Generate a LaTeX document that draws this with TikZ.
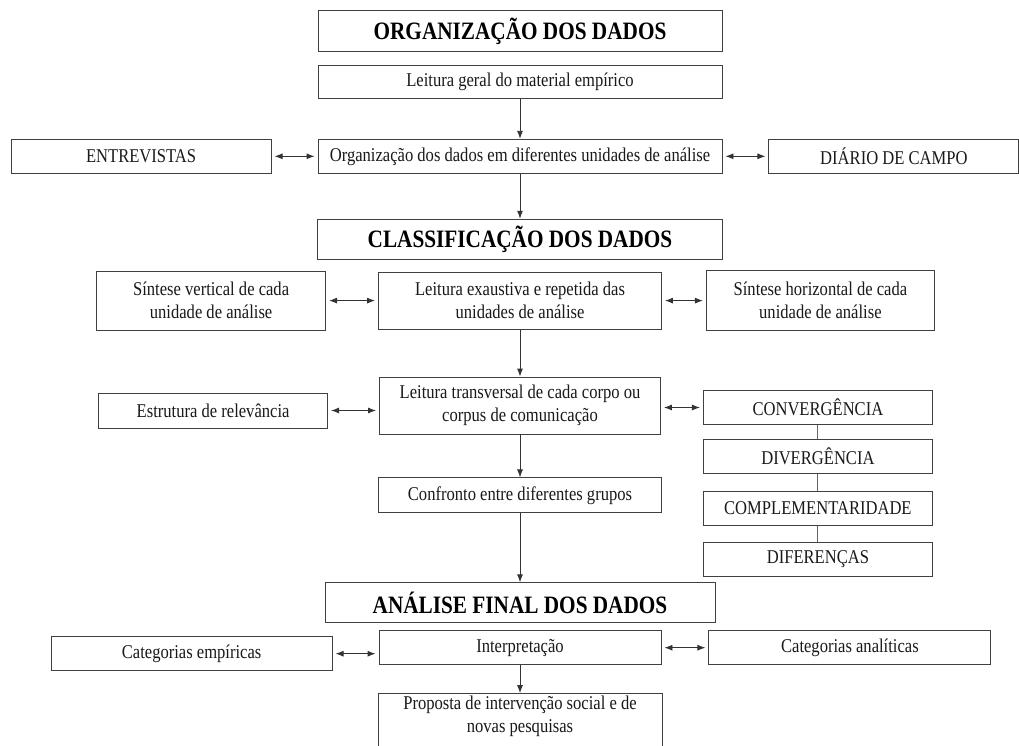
\documentclass[tikz,border=0pt]{standalone}
\usepackage{fontspec}
\setmainfont[FakeStretch=0.85]{Liberation Serif}
\usetikzlibrary{arrows.meta,positioning}

\begin{document}
\begin{tikzpicture}[
  x=1pt, y=-1pt,
  node distance=41pt,
  box/.style={rectangle, draw=black!75, line width=0.9pt, inner sep=2pt, align=center, text=black!90, minimum height=34pt, font=\fontsize{19.5}{23.4}\selectfont},
  head/.style={box, minimum width=404pt, minimum height=41pt, text=black, font=\fontsize{25}{30}\selectfont\bfseries},
  link/.style={-{Latex[length=8pt,width=6pt]}, line width=0.9pt, draw=black!80},
  both/.style={{Latex[length=8pt,width=6pt]}-{Latex[length=8pt,width=6pt]}, line width=0.9pt, draw=black!80, shorten <=3pt, shorten >=3pt},
  joint/.style={line width=0.9pt, draw=black!60}
]
\useasboundingbox (0,0) rectangle (1019,746);

% organizacao
\node[head] (org) at (520,31) {ORGANIZAÇÃO DOS DADOS};
\node[box, minimum width=404pt, minimum height=33pt, below=13pt of org] (leitura) {Leitura geral do material empírico};
\node[box, minimum width=404pt, below=40pt of leitura] (unidades) {Organização dos dados em diferentes unidades de análise};
\node[box, minimum width=260pt, left=46pt of unidades] (entrev) {ENTREVISTAS};
\node[box, minimum width=250pt, right=46pt of unidades] (diario) {DIÁRIO DE CAMPO};
\draw[link] (leitura) -- (unidades);
\draw[both] (entrev) -- (unidades);
\draw[both] (unidades) -- (diario);

% classificacao
\node[head, minimum width=405pt, minimum height=40pt, below=45pt of unidades] (classif) {CLASSIFICAÇÃO DOS DADOS};
\draw[link] (unidades) -- (classif);
\node[box, minimum width=283pt, minimum height=57pt, below=12pt of classif] (exaust) {Leitura exaustiva e repetida das\\unidades de análise};
\node[box, minimum width=229pt, minimum height=59pt, left=52pt of exaust] (vertical) {Síntese vertical de cada\\unidade de análise};
\node[box, minimum width=228pt, minimum height=60pt, right=44pt of exaust] (horizontal) {Síntese horizontal de cada\\unidade de análise};
\draw[both] (vertical) -- (exaust);
\draw[both] (exaust) -- (horizontal);

\node[box, minimum width=281pt, minimum height=57pt, below=47pt of exaust] (transv) {Leitura transversal de cada corpo ou\\corpus de comunicação};
\draw[link] (exaust) -- (transv);
\node[box, minimum width=229pt, minimum height=35pt, left=51pt of transv, yshift=-5pt] (relev) {Estrutura de relevância};
\draw[both] (relev.east) -- (relev.east -| transv.west);

\node[box, minimum width=229pt, right=42pt of transv, yshift=-2pt] (conv) {CONVERGÊNCIA};
\node[box, minimum width=229pt, below=14pt of conv] (diverg) {DIVERGÊNCIA};
\node[box, minimum width=229pt, below=17pt of diverg] (compl) {COMPLEMENTARIDADE};
\node[box, minimum width=229pt, below=16pt of compl] (difer) {DIFERENÇAS};
\draw[both] (conv.west -| transv.east) -- (conv.west);
\draw[joint] (conv) -- (diverg);
\draw[joint] (diverg) -- (compl);
\draw[joint] (compl) -- (difer);

\node[box, minimum width=283pt, minimum height=35pt, below=43pt of transv] (confronto) {Confronto entre diferentes grupos};
\draw[link] (transv) -- (confronto);

% analise final
\node[head, minimum width=390pt, minimum height=40pt, below=69pt of confronto] (final) {ANÁLISE FINAL DOS DADOS};
\draw[link] (confronto) -- (final);
\node[box, minimum width=282pt, below=7pt of final] (interp) {Interpretação};
\node[box, minimum width=281pt, left=46pt of interp, yshift=-6pt] (empir) {Categorias empíricas};
\node[box, minimum width=282pt, right=47pt of interp] (analit) {Categorias analíticas};
\draw[both] (empir.east) -- (empir.east -| interp.west);
\draw[both] (interp) -- (analit);

\node[box, minimum width=284pt, minimum height=0pt, text depth=60pt, below=28pt of interp] (proposta) {Proposta de intervenção social e de\\novas pesquisas};
\draw[link] (interp) -- (proposta);

\end{tikzpicture}
\end{document}
